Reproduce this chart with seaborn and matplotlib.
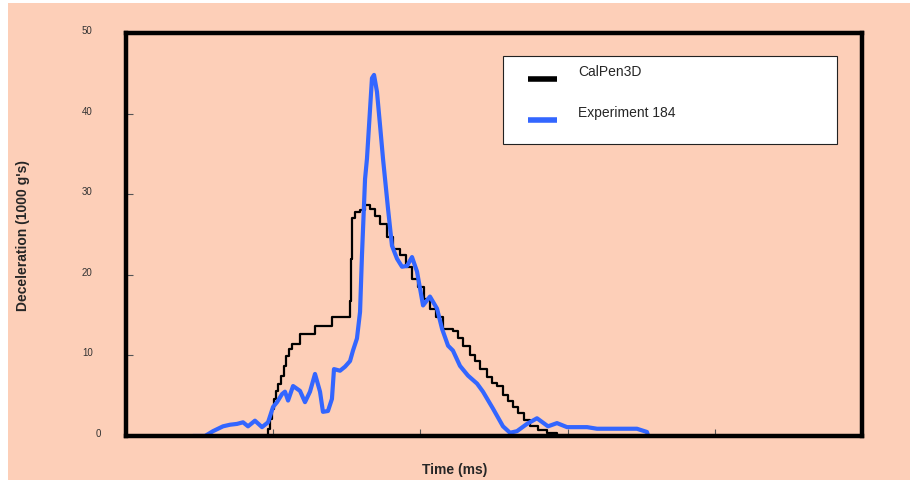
import numpy as np
import pandas as pd
import seaborn as sns
import matplotlib
matplotlib.use("Agg")
import matplotlib.pyplot as plt
from matplotlib.patches import Rectangle
from matplotlib.lines import Line2D
from matplotlib.legend_handler import HandlerLine2D
from matplotlib.transforms import ScaledTranslation

# CalPen3D (model) - time in ms, deceleration in 1000 g's
calpen_t = [0.92, 0.944, 0.965, 0.978, 0.992, 1.005, 1.019, 1.033, 1.053, 1.073, 1.087, 1.107,
            1.128, 1.182, 1.284, 1.399, 1.515, 1.522, 1.529, 1.535, 1.556, 1.590, 1.624,
            1.658, 1.692, 1.726, 1.773, 1.814, 1.861, 1.902, 1.943, 1.984, 2.024, 2.065,
            2.106, 2.154, 2.221, 2.255, 2.289, 2.337, 2.371, 2.405, 2.452, 2.486, 2.520,
            2.561, 2.595, 2.629, 2.663, 2.704, 2.745, 2.799, 2.860, 2.928]
calpen_g = [0.0, 0.0, 0.9, 2.1, 3.4, 4.6, 5.6, 6.5, 7.5, 8.7, 9.9, 10.8,
            11.4, 12.7, 13.7, 14.8, 14.8, 16.7, 22.0, 27.0, 27.8, 28.1, 28.7,
            28.2, 27.3, 26.3, 24.7, 23.2, 22.4, 21.0, 19.5, 18.5, 17.0, 15.8,
            14.8, 13.3, 13.0, 12.1, 11.2, 10.1, 9.3, 8.3, 7.3, 6.6, 6.2,
            5.1, 4.4, 3.6, 2.9, 2.0, 1.2, 0.75, 0.4, 0.0]

# Experiment 184
exp_t = [0.455, 0.537, 0.591, 0.659, 0.707, 0.754, 0.795, 0.829, 0.876, 0.924, 0.965, 0.999,
         1.026, 1.060, 1.080, 1.101, 1.135, 1.182, 1.216, 1.250, 1.284, 1.318, 1.338, 1.372,
         1.399, 1.413, 1.454, 1.488, 1.522, 1.542, 1.569, 1.590, 1.603, 1.624, 1.637, 1.671,
         1.685, 1.705, 1.726, 1.746, 1.780, 1.807, 1.841, 1.875, 1.909, 1.943, 1.977, 2.018,
         2.065, 2.113, 2.147, 2.188, 2.221, 2.269, 2.323, 2.385, 2.425, 2.493, 2.561, 2.609,
         2.656, 2.724, 2.792, 2.867, 2.928, 2.996, 3.132, 3.200, 3.356, 3.471, 3.539, 3.546]
exp_g = [0.0, 0.0, 0.6, 1.2, 1.4, 1.5, 1.7, 1.2, 1.9, 1.1, 1.7, 3.6,
         4.2, 5.2, 5.5, 4.4, 6.2, 5.6, 4.2, 5.5, 7.7, 5.5, 3.0, 3.1,
         4.6, 8.3, 8.1, 8.6, 9.3, 10.6, 12.1, 15.4, 22.4, 31.9, 34.4, 44.4,
         44.8, 42.7, 38.5, 34.4, 28.2, 23.6, 22.0, 21.0, 21.1, 22.2, 20.4, 16.2,
         17.3, 15.8, 13.3, 11.2, 10.6, 8.7, 7.5, 6.5, 5.5, 3.4, 1.2, 0.4,
         0.6, 1.5, 2.2, 1.2, 1.6, 1.1, 1.1, 0.9, 0.9, 0.9, 0.5, 0.1]

y_ticks = [0, 10, 20, 30, 40, 50]
x_ticks = [0, 1, 2, 3, 4, 5]

peach = "#FDCFB8"
blue = "#3366FF"


class LowHandler(HandlerLine2D):
    # legend swatch sits a bit below its label, like the original
    def create_artists(self, legend, orig_handle, xdescent, ydescent, width, height,
                       fontsize, trans):
        return super().create_artists(legend, orig_handle, xdescent, ydescent + 13,
                                      width, height, fontsize, trans)


sns.set_theme(style="white")
plt.rcParams['font.family'] = ['Liberation Sans', 'DejaVu Sans']

fig = plt.figure(figsize=(9.10, 4.81), dpi=100, facecolor="white")
fig.patches.append(Rectangle((8 / 910, 0), 1, 1 - 4 / 481, transform=fig.transFigure,
                             facecolor=peach, edgecolor="none", zorder=-10))
ax = fig.add_axes([126 / 910, 44 / 481, 736 / 910, 403 / 481])
ax.set_facecolor(peach)

sns.lineplot(x=calpen_t, y=calpen_g, ax=ax, color="black", lw=1.6, sort=False,
             estimator=None, drawstyle="steps-post")
sns.lineplot(x=exp_t, y=exp_g, ax=ax, color=blue, lw=3.0, sort=False, estimator=None)

ax.set_xlim(0, 5)
ax.set_ylim(0, 50)
ax.set_xticks(x_ticks)
ax.set_xticklabels([])
ax.set_yticks(y_ticks)
ax.set_yticklabels([str(v) for v in y_ticks], fontsize=7, color="#333333")
ax.tick_params(axis="y", direction="in", length=5, width=0.8, color="#555555", pad=24, left=True)
ax.tick_params(axis="x", direction="in", length=5, width=0.8, color="#555555", bottom=True)
for i, lab in enumerate(ax.get_yticklabels()):
    dx = 8 / 100 if i == 0 else 0
    lab.set_transform(lab.get_transform() + ScaledTranslation(dx, 4 / 100, fig.dpi_scale_trans))

for s in ax.spines.values():
    s.set_visible(True)
    s.set_color("black")
    s.set_linewidth(3.2)

ax.set_ylabel("Deceleration (1000 g's)", fontsize=10, fontweight="bold")
ax.yaxis.set_label_coords(-0.131, 0.5)
ax.set_xlabel("Time (ms)", fontsize=10, fontweight="bold")
ax.xaxis.set_label_coords(0.446, -0.064)

# legend box drawn separately so the padding can match
ax.add_patch(Rectangle(((503 - 126) / 736, (437 - 145) / 403), 334 / 736, 88 / 403,
                       transform=ax.transAxes, facecolor="white", edgecolor="#222222",
                       lw=0.8, zorder=5))
handles = [Line2D([], [], color="black", lw=4, solid_capstyle="butt"),
           Line2D([], [], color=blue, lw=4, solid_capstyle="butt")]
leg = ax.legend(handles, ["CalPen3D", "Experiment 184"], loc="upper left",
                bbox_to_anchor=((528 - 126) / 736, (437 - 65) / 403), borderaxespad=0,
                borderpad=0, fontsize=10, frameon=False,
                handlelength=2.1, handletextpad=1.5, labelspacing=1.95,
                handler_map={Line2D: LowHandler()})
leg.set_zorder(6)

fig.savefig("out.png", dpi=100, facecolor=fig.get_facecolor())
